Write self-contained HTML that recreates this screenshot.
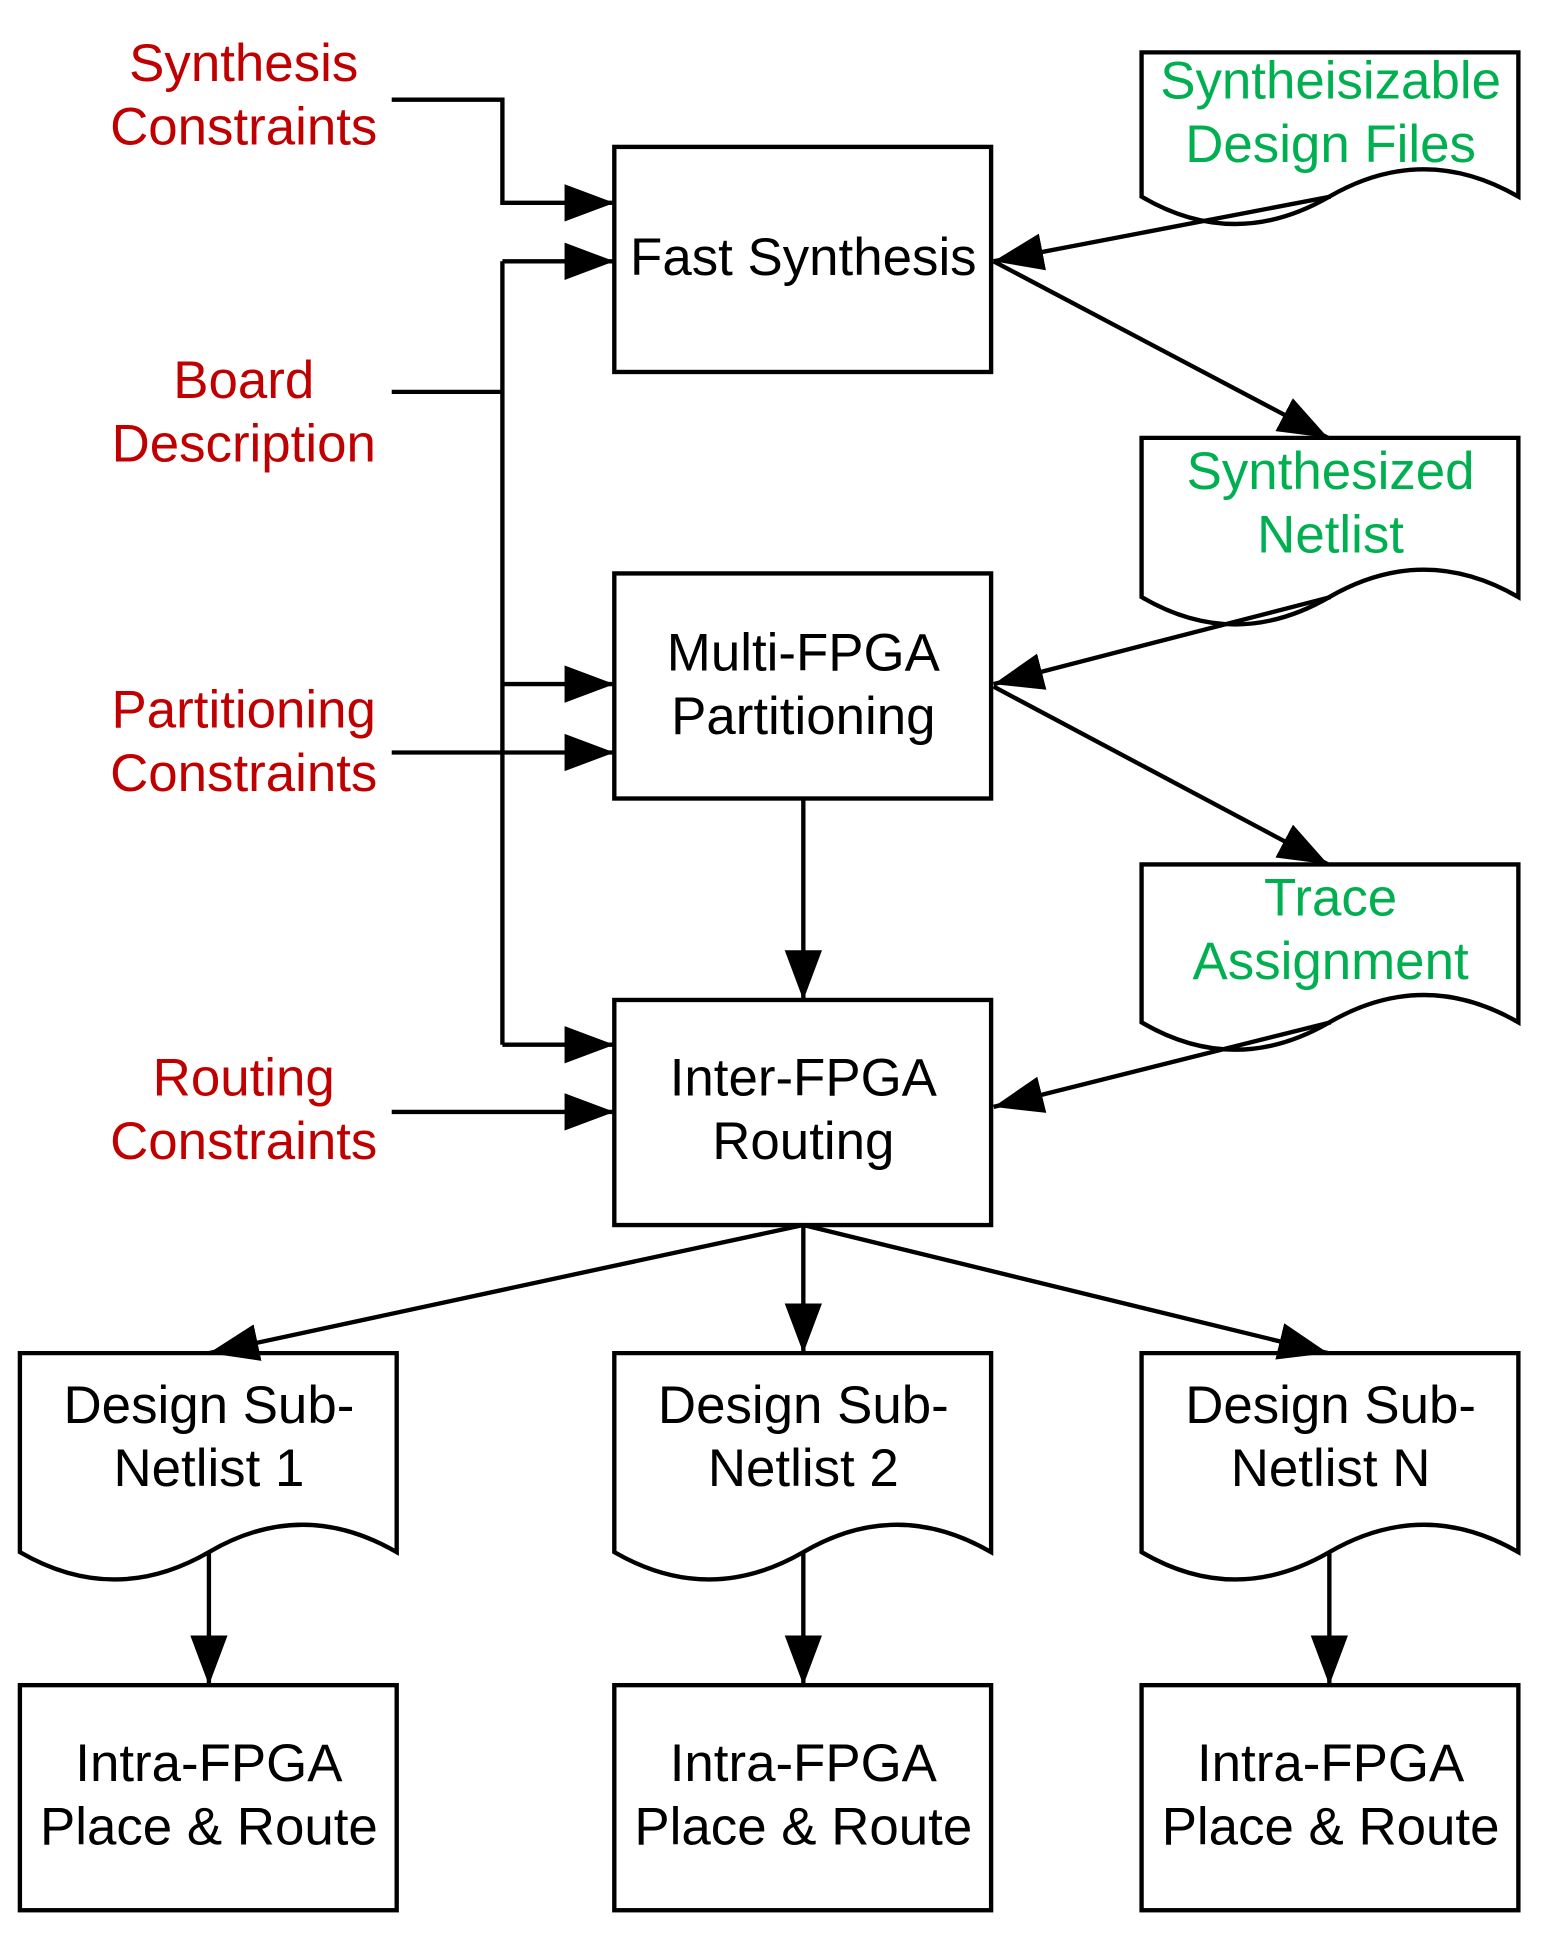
<!DOCTYPE html>
<html><head><meta charset="utf-8"><style>
html,body{margin:0;padding:0;background:#fff}
svg{display:block}
text{font-family:"Liberation Sans",Arial,sans-serif;font-size:42.5px;text-anchor:middle}
.r{fill:#c00000}.g{fill:#00b050}.k{fill:#000}
</style></head><body>
<svg width="1542" height="1939" viewBox="0 0 1240 1559" xmlns="http://www.w3.org/2000/svg">
<defs>
<marker id="ah" viewBox="0 0 40 30" refX="40" refY="15" markerWidth="40" markerHeight="30" orient="auto" markerUnits="userSpaceOnUse">
<path d="M0,0 L40,15 L0,30 Z" fill="#000"/>
</marker>
</defs>
<g fill="none" stroke="#000" stroke-width="3.5">
<rect x="494" y="118" width="303" height="181"/>
<rect x="494" y="461" width="303" height="181"/>
<rect x="494" y="804" width="303" height="181"/>
<rect x="16" y="1355" width="303" height="181"/>
<rect x="494" y="1355" width="303" height="181"/>
<rect x="918" y="1355" width="303" height="181"/>
<path d="M918,42 H1221 V158 Q1145,114 1069,158 Q993,202 918,158 Z"/>
<path d="M918,352 H1221 V480 Q1145,436 1069,480 Q993,524 918,480 Z"/>
<path d="M918,695 H1221 V822 Q1145,778 1069,822 Q993,866 918,822 Z"/>
<path d="M16,1088 H319 V1248 Q243,1204 168,1248 Q92,1292 16,1248 Z"/>
<path d="M494,1088 H797 V1248 Q721,1204 646,1248 Q570,1292 494,1248 Z"/>
<path d="M918,1088 H1221 V1248 Q1145,1204 1069,1248 Q993,1292 918,1248 Z"/>
<polyline points="315,80 404,80 404,163 494,163" marker-end="url(#ah)"/>
<line x1="315" y1="315" x2="404" y2="315"/>
<line x1="404" y1="210" x2="404" y2="840"/>
<line x1="404" y1="210" x2="494" y2="210" marker-end="url(#ah)"/>
<line x1="404" y1="550" x2="494" y2="550" marker-end="url(#ah)"/>
<line x1="404" y1="840" x2="494" y2="840" marker-end="url(#ah)"/>
<line x1="315" y1="605" x2="494" y2="605" marker-end="url(#ah)"/>
<line x1="315" y1="894" x2="494" y2="894" marker-end="url(#ah)"/>
<line x1="1070" y1="158" x2="799" y2="210" marker-end="url(#ah)"/>
<line x1="1070" y1="480" x2="799" y2="550" marker-end="url(#ah)"/>
<line x1="1070" y1="822" x2="799" y2="890" marker-end="url(#ah)"/>
<line x1="799" y1="210" x2="1068" y2="352" marker-end="url(#ah)"/>
<line x1="799" y1="552" x2="1068" y2="695" marker-end="url(#ah)"/>
<line x1="646" y1="642" x2="646" y2="804" marker-end="url(#ah)"/>
<line x1="646" y1="985" x2="168" y2="1088" marker-end="url(#ah)"/>
<line x1="646" y1="985" x2="646" y2="1088" marker-end="url(#ah)"/>
<line x1="646" y1="985" x2="1068" y2="1088" marker-end="url(#ah)"/>
<line x1="168" y1="1248" x2="168" y2="1355" marker-end="url(#ah)"/>
<line x1="646" y1="1248" x2="646" y2="1355" marker-end="url(#ah)"/>
<line x1="1069" y1="1248" x2="1069" y2="1355" marker-end="url(#ah)"/>
</g>
<text class="r" x="196" y="65">Synthesis</text>
<text class="r" x="196" y="116">Constraints</text>
<text class="r" x="196" y="320">Board</text>
<text class="r" x="196" y="371">Description</text>
<text class="r" x="196" y="585">Partitioning</text>
<text class="r" x="196" y="636">Constraints</text>
<text class="r" x="196" y="881">Routing</text>
<text class="r" x="196" y="932">Constraints</text>
<text class="k" x="646" y="221">Fast Synthesis</text>
<text class="k" x="646" y="539">Multi-FPGA</text>
<text class="k" x="646" y="590">Partitioning</text>
<text class="k" x="646" y="881">Inter-FPGA</text>
<text class="k" x="646" y="932">Routing</text>
<text class="g" x="1070" y="79">Syntheisizable</text>
<text class="g" x="1070" y="130">Design Files</text>
<text class="g" x="1070" y="393">Synthesized</text>
<text class="g" x="1070" y="444">Netlist</text>
<text class="g" x="1070" y="736">Trace</text>
<text class="g" x="1070" y="787">Assignment</text>
<text class="k" x="168" y="1144">Design Sub-</text>
<text class="k" x="168" y="1195">Netlist 1</text>
<text class="k" x="646" y="1144">Design Sub-</text>
<text class="k" x="646" y="1195">Netlist 2</text>
<text class="k" x="1070" y="1144">Design Sub-</text>
<text class="k" x="1070" y="1195">Netlist N</text>
<text class="k" x="168" y="1432">Intra-FPGA</text>
<text class="k" x="168" y="1483">Place &amp; Route</text>
<text class="k" x="646" y="1432">Intra-FPGA</text>
<text class="k" x="646" y="1483">Place &amp; Route</text>
<text class="k" x="1070" y="1432">Intra-FPGA</text>
<text class="k" x="1070" y="1483">Place &amp; Route</text>
</svg>
</body></html>
